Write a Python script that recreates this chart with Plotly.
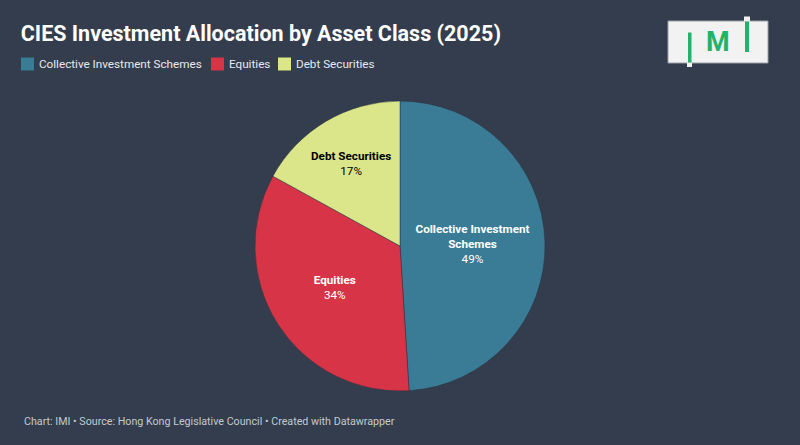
import plotly.graph_objects as go

# --- data ---
categories = ["Collective Investment Schemes", "Equities", "Debt Securities"]
slice_text = ["Collective Investment<br>Schemes", "Equities", "Debt Securities"]
shares = [49, 34, 17]

colors = ["#3a7c96", "#d73547", "#dbe68a"]
text_colors = ["#ffffff", "#ffffff", "#000000"]
BG = "#333d4d"
GREEN = "#21b36b"
W, H = 800, 445

# legend swatch left edges (px), datawrapper-style row under the title
legend_x = [21, 211, 278]


def px(x):
    return x / W


def py(y):
    return 1 - y / H


fig = go.Figure()
fig.add_trace(go.Pie(
    labels=categories,
    values=shares,
    text=slice_text,
    sort=False,
    direction="clockwise",
    rotation=0,
    marker=dict(colors=colors, line=dict(color="#2a3340", width=0.5)),
    texttemplate="<b>%{text}</b><br>%{percent:.0%}",
    textposition="inside",
    insidetextorientation="horizontal",
    insidetextfont=dict(family="Roboto", size=11.7, color=text_colors),
    hoverinfo="label+percent",
    domain=dict(x=[0, 1], y=[0.1213, 0.773]),
    showlegend=False,
))

fig.update_layout(
    width=W, height=H,
    paper_bgcolor=BG, plot_bgcolor=BG,
    margin=dict(l=0, r=0, t=0, b=0),
    font=dict(family="Roboto", color="#ffffff"),
    title=dict(
        text="<b>CIES Investment Allocation by Asset Class (2025)</b>",
        x=0.026, xanchor="left", y=0.925, yanchor="middle",
        font=dict(size=21.5, color="#ffffff"),
    ),
    uniformtext=dict(minsize=11, mode="show"),
)

# legend row
for x0, c, name in zip(legend_x, colors, categories):
    fig.add_shape(type="rect", xref="paper", yref="paper",
                  x0=px(x0), x1=px(x0 + 13), y0=py(70.5), y1=py(57.5),
                  fillcolor=c, line=dict(width=0))
    fig.add_annotation(
        text=name, xref="paper", yref="paper", x=px(x0 + 16), y=py(64),
        xanchor="left", yanchor="middle", showarrow=False,
        font=dict(size=11.7, color="#e6e9ee"),
    )

# footer
fig.add_annotation(
    text="Chart: IMI • Source: Hong Kong Legislative Council • Created with Datawrapper",
    xref="paper", yref="paper", x=px(22), y=py(421), xanchor="left", yanchor="middle",
    showarrow=False, font=dict(size=10.7, color="#c4c9d1"),
)

# logo
fig.add_shape(type="rect", xref="paper", yref="paper",
              x0=px(668), x1=px(768), y0=py(63), y1=py(21),
              fillcolor="#f2f2f2", line=dict(color="#9aa0a8", width=1))
fig.add_shape(type="rect", xref="paper", yref="paper",
              x0=px(687), x1=px(692), y0=py(67), y1=py(62.5),
              fillcolor="#f2f2f2", line=dict(width=0))
fig.add_shape(type="rect", xref="paper", yref="paper",
              x0=px(688), x1=px(691.5), y0=py(62.5), y1=py(32.5),
              fillcolor=GREEN, line=dict(width=0))
fig.add_shape(type="rect", xref="paper", yref="paper",
              x0=px(744), x1=px(750), y0=py(21.5), y1=py(16.5),
              fillcolor="#f2f2f2", line=dict(width=0))
fig.add_shape(type="rect", xref="paper", yref="paper",
              x0=px(745), x1=px(749), y0=py(52), y1=py(21.5),
              fillcolor=GREEN, line=dict(width=0))
fig.add_annotation(
    text="<b>M</b>", xref="paper", yref="paper", x=px(718), y=py(42),
    xanchor="center", yanchor="middle", showarrow=False,
    font=dict(family="Roboto", size=27, color=GREEN),
)

fig.write_html("out.html", config={"displayModeBar": False},
               post_script="document.body.style.margin='0';")
